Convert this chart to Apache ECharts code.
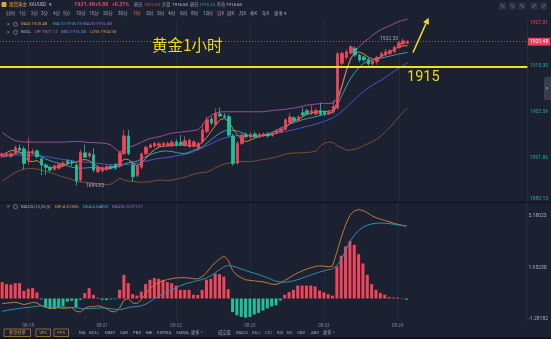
<!DOCTYPE html>
<html>
<head>
<meta charset="utf-8">
<script src="https://cdn.jsdelivr.net/npm/echarts@6/dist/echarts.min.js"></script>
<style>
  html, body { margin: 0; padding: 0; background: #1c2131; }
  #c { width: 551px; height: 339px; }
</style>
</head>
<body>
<div id="c"></div>
<script>
// Hourly XAUUSD candles: [open, close, low, high]
const candles = [
  [1892.4,1892.9,1892.0,1893.3],[1892.5,1892.9,1892.1,1893.2],[1892.3,1893.0,1891.9,1893.3],[1893.0,1894.5,1892.8,1895.0],
  [1894.4,1893.9,1893.6,1895.3],[1894.2,1890.5,1889.0,1894.8],[1891.3,1893.5,1890.2,1896.9],[1893.1,1893.6,1892.7,1894.2],
  [1893.7,1892.2,1891.8,1894.0],[1891.7,1890.1,1887.5,1892.0],[1890.1,1889.5,1887.6,1890.6],[1889.5,1888.8,1888.3,1889.9],
  [1889.0,1889.9,1888.6,1890.3],[1889.3,1890.2,1888.9,1890.6],[1889.9,1890.6,1889.5,1891.1],[1891.2,1890.5,1890.2,1891.6],
  [1890.9,1890.6,1889.9,1891.4],[1890.1,1886.0,1884.85,1890.5],[1886.3,1893.3,1885.8,1894.0],[1893.2,1892.1,1891.9,1895.3],
  [1892.4,1893.0,1891.9,1893.5],[1892.7,1888.8,1888.2,1894.4],[1888.4,1889.5,1888.0,1889.9],[1888.6,1889.4,1888.2,1889.9],
  [1889.0,1889.7,1888.6,1890.1],[1889.8,1889.3,1888.9,1890.2],[1890.2,1889.3,1888.9,1890.6],[1889.8,1893.2,1889.4,1893.6],
  [1893.0,1897.5,1892.6,1899.0],[1897.5,1893.0,1892.6,1899.0],[1890.1,1887.1,1885.8,1891.0],[1887.4,1889.8,1887.0,1890.5],
  [1889.5,1892.9,1889.0,1893.3],[1893.0,1894.6,1892.6,1895.0],[1894.6,1895.2,1894.3,1895.6],[1894.9,1895.6,1894.6,1896.0],
  [1895.0,1895.5,1894.7,1896.0],[1895.1,1895.6,1894.7,1896.0],[1895.2,1895.6,1894.9,1896.0],[1895.0,1895.9,1894.7,1896.5],
  [1896.0,1895.2,1894.8,1896.6],[1895.9,1895.3,1895.0,1897.7],[1895.1,1896.3,1894.8,1897.4],[1894.8,1896.4,1894.4,1896.8],
  [1895.0,1896.0,1894.6,1896.4],[1894.3,1895.6,1893.8,1896.0],[1896.0,1899.0,1895.6,1900.7],[1898.6,1901.6,1898.2,1902.4],
  [1901.8,1900.8,1900.3,1902.5],[1900.3,1903.3,1899.9,1904.5],[1903.1,1902.6,1902.2,1904.8],[1902.6,1902.3,1901.8,1903.3],
  [1902.4,1897.7,1897.2,1903.0],[1897.5,1890.5,1889.9,1898.0],[1890.6,1895.6,1890.2,1896.2],[1895.6,1897.7,1895.2,1898.2],
  [1897.8,1897.3,1896.9,1898.4],[1897.2,1897.9,1896.8,1898.4],[1898.0,1897.5,1897.0,1898.6],[1897.4,1897.9,1897.0,1898.3],
  [1897.6,1898.0,1897.2,1898.4],[1898.0,1897.5,1897.1,1898.5],[1897.6,1898.2,1897.3,1898.6],[1898.2,1898.8,1897.9,1899.2],
  [1898.6,1899.3,1898.3,1899.7],[1899.2,1901.6,1898.9,1902.0],[1900.9,1902.3,1900.5,1903.3],[1902.1,1901.4,1901.0,1902.5],
  [1901.5,1902.3,1901.1,1902.8],[1903.4,1902.8,1902.4,1904.8],[1903.9,1903.2,1902.9,1904.4],[1903.2,1903.9,1902.8,1905.3],
  [1903.1,1904.0,1902.7,1904.5],[1904.0,1903.0,1902.6,1906.0],[1903.6,1903.1,1902.7,1904.0],[1903.1,1903.6,1902.8,1904.0],
  [1903.6,1905.0,1903.2,1906.5],[1904.6,1918.4,1904.2,1918.9],[1916.0,1918.5,1915.5,1919.0],[1917.5,1918.9,1917.0,1919.5],
  [1918.6,1920.2,1918.2,1920.6],[1919.8,1918.1,1917.6,1920.3],[1918.1,1916.8,1916.3,1918.4],[1917.6,1916.9,1916.4,1918.0],
  [1917.0,1915.8,1915.4,1917.3],[1915.9,1916.5,1914.9,1916.9],[1916.4,1917.5,1915.6,1917.9],[1917.7,1918.5,1917.3,1918.9],
  [1918.1,1918.9,1917.8,1919.6],[1918.5,1919.2,1918.1,1919.6],[1918.9,1920.1,1918.6,1920.5],[1920.0,1921.2,1919.7,1921.6],
  [1920.9,1921.7,1920.5,1922.33],[1921.1,1921.48,1920.8,1921.9]
];

const ma5 = [
  1892.63,1893.26,1893.77,1893.77,1893.39,1892.37,1891.10,1890.97,1891.23,1890.46,
  1889.70,1889.44,1889.57,1889.70,1889.83,1890.33,1890.84,1890.72,1891.35,1891.48,
  1891.23,1890.33,1889.70,1889.06,1889.06,1889.32,1889.83,1890.72,1891.61,1891.48,
  1890.59,1889.83,1890.59,1891.86,1893.14,1894.03,1894.66,1894.92,1894.92,1895.05,
  1895.17,1895.17,1895.17,1895.05,1894.92,1895.05,1895.94,1897.21,1898.74,1900.27,
  1901.67,1901.92,1901.16,1899.25,1897.72,1896.45,1896.07,1896.45,1896.96,1897.34,
  1897.60,1897.72,1897.97,1898.36,1898.87,1899.50,1900.65,1901.29,1901.79,1902.43,
  1902.94,1903.32,1903.58,1903.70,1903.70,1903.83,1903.96,1906.38,1910.45,1914.27,
  1917.33,1918.60,1918.86,1918.35,1917.58,1917.07,1917.20,1917.71,1918.35,1918.99,
  1919.62,1920.13,1920.39,1920.48
];
const ma10 = [
  1892.12,1892.37,1892.63,1893.01,1893.26,1893.39,1893.39,1893.26,1892.88,1892.25,
  1891.61,1891.23,1890.84,1890.59,1890.21,1889.83,1889.57,1889.32,1889.32,1889.32,
  1889.44,1889.44,1889.37,1889.32,1889.32,1889.44,1889.57,1889.83,1890.33,1890.72,
  1890.84,1891.10,1891.61,1892.25,1892.76,1893.14,1893.47,1893.65,1893.65,1893.52,
  1893.26,1893.06,1893.06,1893.39,1893.90,1894.28,1894.79,1895.68,1896.58,1897.47,
  1898.23,1898.74,1899.00,1898.92,1898.74,1898.36,1897.85,1897.47,1897.29,1897.47,
  1897.72,1897.97,1898.48,1899.00,1899.50,1900.01,1900.52,1900.90,1901.29,1901.67,
  1901.92,1902.17,1902.43,1902.69,1902.94,1903.20,1903.45,1905.61,1907.91,1910.20,
  1912.24,1913.76,1915.04,1916.06,1916.44,1916.82,1917.07,1917.33,1917.58,1917.84,
  1918.09,1918.35,1918.55,1918.73
];
// MA20 and the Bollinger middle band are the same line
const bollMid = [
  1892.63,1892.63,1892.63,1892.63,1892.63,1892.63,1892.63,1892.58,1892.50,1892.37,
  1892.25,1892.04,1891.86,1891.66,1891.51,1891.35,1891.20,1891.05,1890.95,1890.84,
  1890.72,1890.61,1890.51,1890.41,1890.28,1890.18,1890.08,1890.08,1890.21,1890.33,
  1890.46,1890.59,1890.84,1891.10,1891.35,1891.61,1891.79,1891.91,1892.04,1892.25,
  1892.42,1892.63,1892.83,1893.06,1893.52,1894.03,1894.54,1895.05,1895.56,1896.07,
  1896.58,1896.96,1897.21,1897.39,1897.60,1897.72,1897.64,1897.57,1897.47,1897.54,
  1897.64,1897.72,1897.92,1898.15,1898.36,1898.61,1898.87,1899.12,1899.38,1899.68,
  1899.96,1900.22,1900.52,1900.90,1901.29,1901.67,1902.18,1902.94,1903.83,1904.85,
  1905.87,1906.89,1907.91,1908.93,1909.69,1910.45,1911.09,1911.73,1912.49,1913.25,
  1914.02,1914.66,1915.42,1916.08
];
const bollUp = [
  1898.36,1897.60,1896.83,1896.32,1896.07,1895.94,1895.94,1895.94,1895.94,1895.94,
  1895.94,1895.94,1895.94,1895.94,1895.94,1895.99,1896.07,1896.07,1896.07,1895.94,
  1895.81,1895.81,1895.73,1895.68,1895.55,1895.17,1894.15,1893.39,1894.15,1894.66,
  1894.92,1895.43,1895.94,1896.45,1896.83,1897.08,1897.29,1897.60,1897.97,1898.23,
  1898.36,1898.48,1898.61,1898.74,1898.87,1899.12,1900.27,1901.79,1902.81,1903.32,
  1903.58,1903.65,1903.65,1903.65,1903.65,1903.65,1903.65,1903.65,1903.65,1903.65,
  1903.70,1903.83,1903.96,1904.09,1904.16,1904.26,1904.47,1904.60,1904.85,1905.11,
  1905.36,1905.49,1905.61,1905.74,1905.79,1905.79,1905.87,1907.40,1910.20,1914.27,
  1917.07,1919.11,1920.39,1921.40,1922.17,1923.19,1923.95,1924.59,1925.10,1925.61,
  1926.12,1926.63,1926.96,1927.17
];
const bollLow = [
  1886.01,1886.77,1887.53,1888.17,1888.68,1889.06,1889.19,1889.19,1889.06,1888.81,
  1888.55,1888.17,1887.79,1887.41,1887.02,1886.77,1886.39,1886.01,1885.75,1885.75,
  1885.62,1885.50,1885.37,1885.24,1885.11,1885.24,1886.01,1886.77,1886.26,1886.01,
  1886.01,1885.75,1885.75,1885.75,1885.88,1886.13,1886.26,1886.26,1886.13,1886.26,
  1886.51,1886.77,1887.02,1887.41,1887.79,1888.04,1888.17,1888.30,1888.81,1889.44,
  1889.95,1890.33,1890.59,1890.77,1890.89,1890.97,1890.97,1890.97,1891.10,1891.35,
  1891.53,1891.68,1891.91,1892.17,1892.50,1892.88,1893.06,1893.14,1893.19,1893.24,
  1893.31,1893.39,1893.65,1894.92,1895.68,1895.94,1895.81,1894.92,1894.41,1893.90,
  1893.90,1894.15,1894.53,1895.04,1895.55,1896.07,1896.70,1897.59,1898.61,1899.76,
  1901.03,1902.30,1903.57,1904.58
];

// MACD(12,26,9)
const macdBar = [
  1.02,0.90,0.87,0.96,0.96,0.48,0.61,0.65,0.38,-0.05,
  -0.55,-0.65,-0.65,-0.60,-0.50,-0.20,-0.15,-0.55,-0.08,0.34,
  0.65,0.23,0.05,-0.08,-0.10,-0.05,-0.04,0.54,1.48,0.96,
  0.27,0.18,0.43,0.90,1.17,1.28,1.23,1.17,1.02,0.96,
  0.81,0.54,0.54,0.54,0.23,0.23,0.54,1.17,1.23,1.55,
  1.52,1.37,0.58,-0.85,-1.05,-1.15,-1.20,-1.15,-1.00,-0.90,
  -0.75,-0.62,-0.50,-0.42,-0.12,0.23,0.40,0.54,0.81,0.81,
  0.81,0.81,0.75,0.50,0.38,0.27,0.18,2.00,2.67,3.26,
  3.60,3.35,2.77,2.19,1.48,0.90,0.54,0.34,0.23,0.09,
  0.06,0.06,-0.02,-0.07177
];
const dif = [
  -0.32,-0.29,-0.26,-0.23,-0.30,-0.38,-0.32,-0.24,-0.28,-0.44,
  -0.56,-0.62,-0.60,-0.57,-0.62,-0.60,-0.57,-0.80,-0.84,-0.62,
  -0.50,-0.52,-0.45,-0.52,-0.63,-0.80,-0.84,-0.60,-0.10,0.00,
  -0.28,-0.32,-0.08,0.30,0.62,0.85,1.00,1.10,1.18,1.24,
  1.28,1.30,1.30,1.28,1.24,1.22,1.35,1.60,1.95,2.25,
  2.46,2.65,2.40,1.75,1.45,1.30,1.17,1.13,1.10,1.07,
  1.04,0.98,0.90,0.88,0.98,1.12,1.28,1.45,1.60,1.72,
  1.83,1.92,2.00,2.04,2.02,1.98,2.02,2.90,3.80,4.60,
  5.20,5.48,5.55,5.50,5.35,5.18,5.05,4.96,4.88,4.80,
  4.71,4.63,4.57,4.51305
];
const dea = [
  -0.80,-0.75,-0.70,-0.66,-0.62,-0.58,-0.55,-0.52,-0.48,-0.46,
  -0.46,-0.48,-0.50,-0.52,-0.54,-0.55,-0.55,-0.58,-0.62,-0.64,
  -0.64,-0.62,-0.60,-0.59,-0.60,-0.64,-0.68,-0.70,-0.64,-0.56,
  -0.52,-0.50,-0.46,-0.36,-0.20,-0.02,0.15,0.30,0.44,0.56,
  0.68,0.80,0.90,0.98,1.05,1.12,1.18,1.28,1.42,1.60,
  1.80,1.98,2.06,2.02,1.94,1.84,1.75,1.66,1.58,1.50,
  1.40,1.30,1.18,1.08,1.03,1.02,1.04,1.10,1.18,1.27,
  1.37,1.47,1.56,1.65,1.73,1.80,1.85,2.05,2.45,3.00,
  3.55,3.95,4.25,4.45,4.58,4.66,4.70,4.72,4.70,4.68,
  4.64,4.60,4.57,4.54893
];

// Axis ticks
const priceTicks = [1927.01, 1915.30, 1903.59, 1891.86, 1880.15];
const macdTicks = [5.18023, 1.95230, -1.28182];
const dateTicks = ['08-18', '08-21', '08-22', '08-23', '08-23', '08-24'];
const dateTickSlots = [6, 23, 40, 57, 74, 91];
const SLOT_COUNT = 121;          // visible hourly slots, incl. empty space on the right
const SUPPORT_LEVEL = 1915;

// Quote header
const quote = { change: '+5.88', pct: '+0.31%', high: '1922.33', open: '1916.50', low: '1915.23', prevClose: '1915.60' };

const FONT = 'Roboto, "Noto Sans CJK SC", sans-serif';
const RED = '#f0455b', GREEN = '#1fc19b';
const YELLOW = '#efdc1c';
const last = a => a[a.length - 1];
const lastClose = last(candles)[1];

const slotNames = Array.from({ length: SLOT_COUNT }, (_, i) => String(i));
const isDateSlot = i => dateTickSlots.indexOf(i) >= 0;
const dateText = v => { const k = dateTickSlots.indexOf(Number(v)); return k >= 0 ? dateTicks[k] : ''; };

function txt(x, y, text, fill, size, extra) {
  const style = Object.assign({ text, fill, fontSize: size || 4.5, fontFamily: FONT, verticalAlign: 'middle', align: 'left' }, extra || {});
  return { type: 'text', x, y, silent: true, z: 100, style };
}
function box(x, y, w, h, stroke, fill, r) {
  return { type: 'rect', silent: true, z: 99, shape: { x, y, width: w, height: h, r: r || 0 },
           style: { stroke: stroke || null, fill: fill || 'transparent', lineWidth: 0.8 } };
}

function lineSeries(name, data, color, axis) {
  return { name, type: 'line', data, xAxisIndex: axis, yAxisIndex: axis, symbol: 'none', clip: false,
           lineStyle: { color, width: 1 }, itemStyle: { color }, z: 3, silent: true };
}

const graphics = [];
// header row: instrument + quote
graphics.push({ type: 'rect', silent: true, z: 100, shape: { x: 1.5, y: 2, width: 5, height: 5, r: 1 }, style: { fill: '#e6a23c' } });
graphics.push(txt(9, 4.6, '现货黄金', '#f0a437', 4.5));
graphics.push(txt(29, 4.6, 'XAUUSD', '#b5bac3', 4.5));
graphics.push(txt(49, 4.6, '▾', '#b5bac3', 4.5));
graphics.push(txt(74, 4.6, lastClose.toFixed(2), RED, 5.6, { fontWeight: 'bold' }));
graphics.push(txt(95, 4.6, quote.change, RED, 5.2, { fontWeight: 'bold' }));
graphics.push(txt(112, 4.6, quote.pct, RED, 5.2, { fontWeight: 'bold' }));
graphics.push(txt(134, 4.6, '最高', '#8d929c', 4.2));
graphics.push(txt(144, 4.6, quote.high, RED, 4.4));
graphics.push(txt(162, 4.6, '开盘', '#8d929c', 4.2));
graphics.push(txt(172, 4.6, quote.open, '#c9ccd2', 4.4));
graphics.push(txt(190, 4.6, '最低', '#8d929c', 4.2));
graphics.push(txt(199, 4.6, quote.low, '#22b58e', 4.4));
graphics.push(txt(217, 4.6, '昨收', '#8d929c', 4.2));
graphics.push(txt(226, 4.6, quote.prevClose, '#c9ccd2', 4.4));

// period tabs
const periods = [['分时',6],['1分',19],['2分',31],['3分',41],['4分',53],['5分',63],['10分',76],['15分',89],['20分',103],
  ['30分',118],['1时',133],['2时',146],['3时',157],['4时',168],['6时',180],['8时',191],['12时',203],['日K',217],
  ['周K',227],['月K',239],['季K',250],['年K',262],['更多 ▾',274]];
periods.forEach(([p, x]) => graphics.push(txt(x, 14.2, p, p === '1时' ? '#f0643c' : '#9ca1ab', 4.6)));

// toolbar buttons top right
[499, 509, 518.5, 530.5, 540].forEach(x => {
  graphics.push(box(x, 2.5, 7, 7, null, '#2d3444', 1));
  graphics.push({ type: 'line', silent: true, z: 101, shape: { x1: x + 2, y1: x > 525 ? 7.5 : 4.5, x2: x + 5, y2: x > 525 ? 4.5 : 7.5 },
                  style: { stroke: '#8f96a3', lineWidth: 0.7 } });
});

// indicator legends
function legendRow(y, items) {
  graphics.push(txt(7, y, '×', '#8d929c', 5));
  graphics.push({ type: 'circle', silent: true, z: 100, shape: { cx: 15.5, cy: y, r: 2 }, style: { stroke: '#8d929c', fill: 'transparent', lineWidth: 0.7 } });
  items.forEach(([x, s, c]) => graphics.push(txt(x, y, s, c, 4.4)));
}
legendRow(24.3, [[21, 'MA5:' + last(ma5).toFixed(2), '#e39a40'], [53, 'MA10:' + last(ma10).toFixed(2), '#3aaecb'],
                 [83, 'MA20:' + last(bollMid).toFixed(2), '#a36bdc']]);
legendRow(32.3, [[21, 'BOLL', '#a9adb6'], [35, 'UP:' + last(bollUp).toFixed(2), '#c06ec9'],
                 [61, 'MID:' + last(bollMid).toFixed(2), '#5a93e6'], [90, 'LOW:' + last(bollLow).toFixed(2), '#db8c42']]);
legendRow(206.7, [[21, 'MACD(12,26,9)', '#a9adb6'], [55, 'DIF:' + last(dif).toFixed(5), '#e39a40'],
                  [83, 'DEA:' + last(dea).toFixed(5), '#3aaecb'], [112, 'MACD:' + last(macdBar).toFixed(5), '#a36bdc']]);

// panel separator
graphics.push({ type: 'rect', silent: true, z: 50, shape: { x: 0, y: 201.5, width: 551, height: 1.5 }, style: { fill: '#12151f' } });
// side drawer tab
graphics.push(box(544, 77, 8, 23, null, '#373d4d', 2));
graphics.push(txt(545.5, 88.5, '>', '#c5c9d0', 5));

// hand-drawn annotations
graphics.push(txt(152, 45, '黄金1小时', YELLOW, 15.5, { fontFamily: '"Noto Sans CJK SC", sans-serif' }));
graphics.push(txt(407, 77.5, String(SUPPORT_LEVEL), YELLOW, 14.5, { fontFamily: 'Roboto, sans-serif' }));
graphics.push({ type: 'line', silent: true, z: 100, shape: { x1: 413, y1: 52.5, x2: 426, y2: 23.5 }, style: { stroke: YELLOW, lineWidth: 1.6 } });
graphics.push({ type: 'polygon', silent: true, z: 100, shape: { points: [[428.6, 17.8], [429.0, 24.8], [423.1, 22.2]] }, style: { fill: YELLOW } });

// bottom toolbar
graphics.push(box(4, 329, 26.5, 7.5, '#b07a34'));
graphics.push(txt(17.25, 332.8, '多空持单', '#d8953c', 4.3, { align: 'center' }));
graphics.push(box(36, 329, 14.5, 7.5, '#b07a34'));
graphics.push(txt(43.25, 332.8, 'VPC', '#d8953c', 4.3, { align: 'center' }));
graphics.push(box(54, 329, 14.5, 7.5, '#b07a34'));
graphics.push(txt(61.25, 332.8, 'PPS', '#d8953c', 4.3, { align: 'center' }));
[['MA',79],['BOLL',89],['MMV',105],['SAR',120],['PBX',133],['BBI',146],['EXPMA',157],['SMMA',176],['更多 ^',191],
 ['成交量',218],['MACD',236],['KDJ',252],['CCI',265],['RSI',277],['RS',287],['OBV',297],['ABV',311],['更多 ^',323]]
  .forEach(([s, x]) => graphics.push(txt(x, 332.8, s, '#a0a5ae', 4.3)));
graphics.push({ type: 'rect', silent: true, z: 50, shape: { x: 0, y: 337.6, width: 551, height: 1.4 }, style: { fill: '#0c0e14' } });

const xAxisBase = {
  type: 'category', data: slotNames, boundaryGap: true,
  axisLine: { show: false }, axisTick: { show: false },
  splitLine: { show: true, interval: (i) => isDateSlot(i), alignWithLabel: true, lineStyle: { color: '#252b3b', width: 1 } }
};

// price-axis labels: the top and bottom ones sit inside the panel edges
const priceLabel = v => {
  const s = v.toFixed(2);
  if (v === priceTicks[0]) return '{top|' + s + '}';
  if (v === priceTicks[priceTicks.length - 1]) return '{bot|' + s + '}';
  return '{mid|' + s + '}';
};

const option = {
  animation: false,
  backgroundColor: '#1c2131',
  textStyle: { fontFamily: FONT },
  grid: [
    { left: 0, right: 22, top: 20, height: 184.1 },
    { left: 0, right: 22, top: 202, height: 118.9 }
  ],
  xAxis: [
    Object.assign({}, xAxisBase, { gridIndex: 0, axisLabel: { show: false } }),
    Object.assign({}, xAxisBase, { gridIndex: 1,
      axisLabel: { show: true, interval: (i) => isDateSlot(i), formatter: dateText, color: '#7f8591', fontSize: 4.5, margin: 2.5 } })
  ],
  yAxis: [
    { type: 'value', gridIndex: 0, position: 'right', min: 1880.15, max: 1927.01, scale: true,
      axisLine: { show: true, lineStyle: { color: '#272d3c' } }, axisTick: { show: false, customValues: priceTicks },
      splitLine: { show: false },
      axisLabel: { customValues: priceTicks, margin: 2.5, align: 'left', formatter: priceLabel,
        rich: {
          top: { fontSize: 5, color: '#e8485d', padding: [6, 0, 0, 0], fontFamily: FONT },
          mid: { fontSize: 5, color: '#22a886', fontFamily: FONT },
          bot: { fontSize: 5, color: '#22a886', padding: [0, 0, 10, 0], fontFamily: FONT }
        } } },
    { type: 'value', gridIndex: 1, position: 'right', min: -1.4, max: 6.03,
      axisLine: { show: true, lineStyle: { color: '#272d3c' } }, axisTick: { show: false, customValues: macdTicks },
      splitLine: { show: false },
      axisLabel: { customValues: macdTicks, margin: 2.5, fontSize: 5, align: 'left', color: '#a9adb6',
        formatter: v => v.toFixed(5) } }
  ],
  graphic: graphics,
  series: [
    lineSeries('UP', bollUp, '#9c4d9b', 0),
    lineSeries('LOW', bollLow, '#7d4d2f', 0),
    lineSeries('MID', bollMid, '#4a55c7', 0),
    lineSeries('MA10', ma10, '#2d9fb4', 0),
    lineSeries('MA5', ma5, '#d28a3c', 0),
    {
      name: 'XAUUSD', type: 'candlestick', data: candles, xAxisIndex: 0, yAxisIndex: 0, barWidth: 3, z: 4, silent: true,
      itemStyle: { color: RED, color0: GREEN, borderColor: RED, borderColor0: GREEN, borderWidth: 0.8 },
      markPoint: {
        symbol: 'rect', symbolSize: 1, itemStyle: { color: 'rgba(0,0,0,0)' }, silent: true, animation: false,
        label: { color: '#a7abb3', fontSize: 5, fontFamily: FONT },
        data: [
          { type: 'max', valueDim: 'highest', label: { position: 'left', distance: 4.5, formatter: p => p.value.toFixed(2) } },
          { type: 'min', valueDim: 'lowest', label: { position: 'right', distance: 9, formatter: p => p.value.toFixed(2) } }
        ]
      },
      markLine: {
        symbol: ['none', 'none'], silent: true, animation: false,
        data: [
          { yAxis: lastClose, lineStyle: { color: '#b04a5c', type: [1, 2], width: 1 },
            label: { show: true, position: 'end', distance: 0.5, formatter: () => lastClose.toFixed(2),
                     backgroundColor: '#e8415a', color: '#ffffff', fontSize: 5, padding: [1.6, 2.2, 1.2, 2.2] } },
          { yAxis: SUPPORT_LEVEL, lineStyle: { color: '#f2e21a', type: 'solid', width: 2 }, label: { show: false } }
        ]
      }
    },
    {
      name: 'MACD', type: 'bar', data: macdBar, xAxisIndex: 1, yAxisIndex: 1, barWidth: 3, silent: true,
      itemStyle: { color: p => (p.value >= 0 ? RED : GREEN) }
    },
    lineSeries('DIF', dif, '#c07a34', 1),
    lineSeries('DEA', dea, '#2790ae', 1)
  ]
};

const chart = echarts.init(document.getElementById('c'), null, { renderer: 'canvas' });
chart.setOption(option);
</script>
</body>
</html>
